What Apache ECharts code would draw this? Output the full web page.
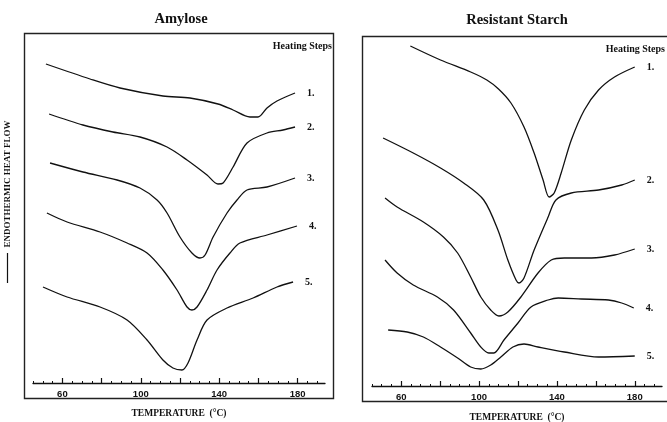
<!DOCTYPE html>
<html><head><meta charset="utf-8">
<script src="https://cdn.jsdelivr.net/npm/echarts@6/dist/echarts.min.js"></script>
<style>html,body{margin:0;padding:0;background:#fff}#c{width:667px;height:422px}</style>
</head><body><div id="c"></div>
<script>
// Amylose thermograms: [temperature °C, heat flow (a.u.)]
const amylose1 = [[51.6,319],[74.1,304],[89.4,295],[111.3,287],[125.1,285],[139.4,279],[147.1,273],[155.7,266],[159.8,266],[164.4,275],[169.5,282],[178.7,290]];
const amylose2 = [[53.2,269],[70.5,258],[85.8,251],[99.6,246],[113.4,236],[123.6,223],[133.8,208],[139.4,199],[142,200],[147.1,216],[154.2,240],[164.4,250],[172.6,253],[178.7,256]];
const amylose3 = [[53.7,220],[70.5,211],[87.9,203],[99.6,195],[108.3,183],[113.4,170],[120,146],[126.1,130],[130.2,125],[132.8,128],[136.9,146],[144,170],[149.1,183],[154.2,193],[164.4,196],[178.7,205]];
const amylose4 = [[52.1,170],[62.4,161],[79.2,151],[93,140],[103.2,130],[111.3,113],[118.5,93],[123.6,76],[126.1,73],[128.7,76],[133.8,93],[138.9,113],[145.5,130],[150.6,140],[164.4,148],[179.7,157]];
const amylose5 = [[50.1,96],[62.4,86],[79.2,76],[93,63],[103.2,43],[111.3,23],[116.4,15],[121,13],[124.1,20],[128.7,43],[133.8,63],[144,75],[157.3,85],[169.5,96],[177.7,101]];
// Resistant starch thermograms
const rs1 = [[64.7,340],[80.2,326],[95.7,314],[104,306],[110,297],[116.4,283],[123.1,259],[128.3,233],[132.9,206],[136,189],[138.6,193],[142.2,213],[147.4,246],[154.1,276],[161.4,296],[169.6,309],[180,319]];
const rs2 = [[50.7,248],[66.2,233],[80.2,218],[92.1,203],[102.4,186],[109.7,156],[114.8,126],[119,106],[120.5,103],[123.1,108],[128.3,136],[135.5,169],[139.5,186],[147.4,193],[161.4,196],[173.3,201],[180,206]];
const rs3 = [[51.7,188],[57.9,179],[71.4,164],[81.7,149],[89,133],[95.7,109],[100.9,89],[106,76],[110.2,70],[114.8,74],[121.5,89],[130.3,113],[137.1,126],[143.8,128],[157.8,128],[169.6,131],[180,137]];
const rs4 = [[51.7,126],[57.9,113],[66.2,101],[78.6,89],[86.9,76],[95.7,53],[100.9,39],[105,33],[107.6,33],[112.8,46],[120,63],[126.7,79],[135.5,86],[140.7,88],[152.6,87],[166.5,86],[173.3,83],[179.5,78]];
const rs5 = [[53.3,56],[63.1,54],[71.4,49],[80.2,39],[89,28],[95.7,19],[100.9,17],[106,21],[111.2,29],[117.4,39],[123.1,42],[130.3,39],[143.8,34],[161.4,29],[180,30]];

const stepLabels = ['1.','2.','3.','4.','5.'];
const majorTicks = [60,80,100,120,140,160,180];
const minorTicks = [45,50,55,60,65,70,75,80,85,90,95,100,105,110,115,120,125,130,135,140,145,150,155,160,165,170,175,180,185,190];
const tickLabels = [60,100,140,180];
const panelTitles = ['Amylose','Resistant Starch'];
const xName = 'TEMPERATURE  (°C)';
const yName = 'ENDOTHERMIC HEAT FLOW';
const legendTitle = 'Heating Steps';

const serif = 'Liberation Serif';
const chart = echarts.init(document.getElementById('c'));

function xAxes(gi, gap){
  return [
    {gridIndex:gi, type:'value', min:45, max:194, position:'bottom',
     axisLine:{show:true,lineStyle:{color:'#111',width:1.3}},
     axisTick:{show:true,inside:true,length:5,customValues:majorTicks,lineStyle:{color:'#111',width:1.2}},
     axisLabel:{show:true,customValues:tickLabels,margin:6,fontSize:9.5,fontWeight:'bold',fontFamily:'Liberation Sans',color:'#111'},
     splitLine:{show:false},
     name:xName,nameLocation:'middle',nameGap:gap,
     nameTextStyle:{fontFamily:serif,fontSize:9.5,fontWeight:'bold',color:'#111'}},
    {gridIndex:gi, type:'value', min:45, max:194, position:'bottom',
     axisLine:{show:false},
     axisTick:{show:true,inside:true,length:2,customValues:minorTicks,lineStyle:{color:'#111',width:1}},
     axisLabel:{show:false},splitLine:{show:false}}
  ];
}
function mkSeries(data, xi, yi, idx){
  return {type:'line', data:data, xAxisIndex:xi, yAxisIndex:yi, smooth:0.3,
    showSymbol:false, symbol:'none', silent:true,
    lineStyle:{color:'#111',width:1.3},
    endLabel:{show:true, formatter:stepLabels[idx], distance:12,
      fontFamily:serif, fontWeight:'bold', fontSize:10, color:'#111'}};
}

const left = [amylose1,amylose2,amylose3,amylose4,amylose5];
const right = [rs1,rs2,rs3,rs4,rs5];
const series = [];
left.forEach((d,i)=>series.push(mkSeries(d,0,0,i)));
right.forEach((d,i)=>series.push(mkSeries(d,2,1,i)));

chart.setOption({
  animation:false,
  backgroundColor:'#fff',
  title:[
    {text:panelTitles[0], left:181, top:12, textAlign:'center', padding:0,
     textStyle:{fontFamily:serif,fontSize:14.5,fontWeight:'bold',color:'#111'}},
    {text:panelTitles[1], left:517, top:13, textAlign:'center', padding:0,
     textStyle:{fontFamily:serif,fontSize:14.5,fontWeight:'bold',color:'#111'}},
    {text:legendTitle, left:332, top:41, textAlign:'right', padding:0,
     textStyle:{fontFamily:serif,fontSize:10,fontWeight:'bold',color:'#111'}},
    {text:legendTitle, left:665, top:44, textAlign:'right', padding:0,
     textStyle:{fontFamily:serif,fontSize:10,fontWeight:'bold',color:'#111'}}
  ],
  graphic:[
    {type:'rect', shape:{x:24.5,y:33.5,width:309,height:365}, style:{fill:'none',stroke:'#222',lineWidth:1.4}, silent:true},
    {type:'rect', shape:{x:362.5,y:36.5,width:330,height:365}, style:{fill:'none',stroke:'#222',lineWidth:1.4}, silent:true},
    {type:'line', shape:{x1:7.5,y1:253,x2:7.5,y2:283}, style:{stroke:'#111',lineWidth:1.2}, silent:true},
    {type:'text', x:7.5, y:184, rotation:Math.PI/2, silent:true,
     style:{text:yName, align:'center', verticalAlign:'middle', fontFamily:serif, fontSize:9, fontWeight:'bold', fill:'#111'}}
  ],
  grid:[
    {left:33, top:34, width:292, height:349, containLabel:false, outerBoundsMode:'none'},
    {left:372, top:37, width:290, height:349, containLabel:false, outerBoundsMode:'none'}
  ],
  xAxis:[...xAxes(0,26), ...xAxes(1,27)],
  yAxis:[
    {gridIndex:0,type:'value',min:0,max:349,show:false},
    {gridIndex:1,type:'value',min:0,max:349,show:false}
  ],
  series:series
});
</script>
</body></html>
